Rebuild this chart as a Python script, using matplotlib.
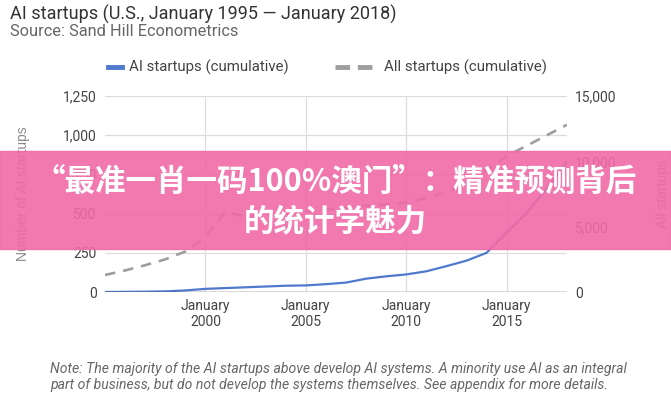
import matplotlib.pyplot as plt
from matplotlib.patches import Rectangle
from matplotlib.lines import Line2D

# ---------- data ----------
years = [1995, 1996, 1997, 1998, 1999, 2000, 2001, 2002, 2003, 2004, 2005, 2006,
         2007, 2008, 2009, 2010, 2011, 2012, 2013, 2014, 2015, 2016, 2017, 2018]
ai_startups = [0, 1, 2, 4, 10, 20, 25, 30, 35, 40, 42, 50,
               60, 85, 100, 112, 132, 165, 200, 250, 380, 505, 660, 830]
all_startups = [1300, 1650, 2050, 2500, 3100, 4200, 6150, 5750, 5850, 6000, 6150, 6300,
                6450, 6600, 6700, 6850, 7200, 7650, 8300, 9300, 10400, 11200, 12000, 12800]
x_ticks = [2000, 2005, 2010, 2015]
left_ticks = [0, 250, 500, 750, 1000, 1250]
right_ticks = [0, 5000, 10000, 15000]

BLUE = "#4f79cc"
GREY = "#9e9e9e"
TXT = "#444444"
plt.rcParams["font.family"] = ["Roboto", "DejaVu Sans"]

fig = plt.figure(figsize=(6.71, 4.0), dpi=100)
ax = fig.add_axes([0.1565, 0.27, 0.6885, 0.49])
ax2 = ax.twinx()

ax.plot(years, ai_startups, color=BLUE, lw=1.6, zorder=3)
ax2.plot(years, all_startups, color=GREY, lw=1.9, dashes=(4, 3), zorder=2)

ax.set_xlim(1995, 2018)
ax.set_ylim(0, 1250)
ax2.set_ylim(0, 15000)
ax.set_xticks(x_ticks)
ax.set_xticklabels([f"January\n{y}" for y in x_ticks])
ax.set_yticks(left_ticks)
ax.set_yticklabels([f"{v:,}" for v in left_ticks])
ax2.set_yticks(right_ticks)
ax2.set_yticklabels([f"{v:,}" for v in right_ticks])

ax.grid(True, color="#dddddd", lw=0.9)
ax.set_axisbelow(True)
for a in (ax, ax2):
    for s in a.spines.values():
        s.set_visible(False)
    a.tick_params(length=0, labelsize=10, labelcolor=TXT)
ax.tick_params(axis="y", pad=6)
ax2.tick_params(axis="y", pad=6)
ax.tick_params(axis="x", pad=5)
ax.axhline(0, color="#555555", lw=1.0, zorder=4)

ax.set_ylabel("Number of AI startups", color="#888888", fontsize=10,
              family=["Liberation Sans", "DejaVu Sans"], labelpad=24)
ax2.set_ylabel("All startups", color="#888888", fontsize=10,
               family=["Liberation Sans", "DejaVu Sans"], labelpad=28)

# titles
fig.text(0.015, 0.965, "AI startups (U.S., January 1995 \u2014 January 2018)",
         fontsize=13, color="#333333", va="center")
fig.text(0.015, 0.92, "Source: Sand Hill Econometrics", fontsize=11.8,
         color="#666666", va="center")

# legend, laid out by hand like the original
leg_y = 0.832
fig.lines.append(Line2D([0.161, 0.182], [leg_y, leg_y], transform=fig.transFigure,
                        color=BLUE, lw=3.5))
fig.text(0.192, leg_y, "AI startups (cumulative)", fontsize=10.8, color=TXT, va="center")
fig.lines.append(Line2D([0.499, 0.559], [leg_y, leg_y], transform=fig.transFigure,
                        color=GREY, lw=3.5, dashes=(3, 1.6)))
fig.text(0.572, leg_y, "All startups (cumulative)", fontsize=10.8, color=TXT, va="center")

# note
fig.text(0.075, 0.058,
         "Note: The majority of the AI startups above develop AI systems. A minority use AI as an integral\n"
         "part of business, but do not develop the systems themselves. See appendix for more details.",
         fontsize=10.1, style="italic", color="#666666", va="center", linespacing=1.2)

# pink banner
fig.patches.append(Rectangle((0, 0.3775), 1, 0.245, transform=fig.transFigure,
                             color="#f06aa6", alpha=0.9, zorder=10))
banner_font = ["Noto Sans CJK SC", "DejaVu Sans"]
fig.text(0.5, 0.545, "\u201c最准一肖一码100%澳门\u201d：精准预测背后", ha="center", va="center",
         fontsize=22, fontweight="heavy", color="white", family=banner_font, zorder=11)
fig.text(0.5, 0.447, "的统计学魅力", ha="center", va="center",
         fontsize=22, fontweight="heavy", color="white", family=banner_font, zorder=11)

fig.savefig("out.png", dpi=100)
